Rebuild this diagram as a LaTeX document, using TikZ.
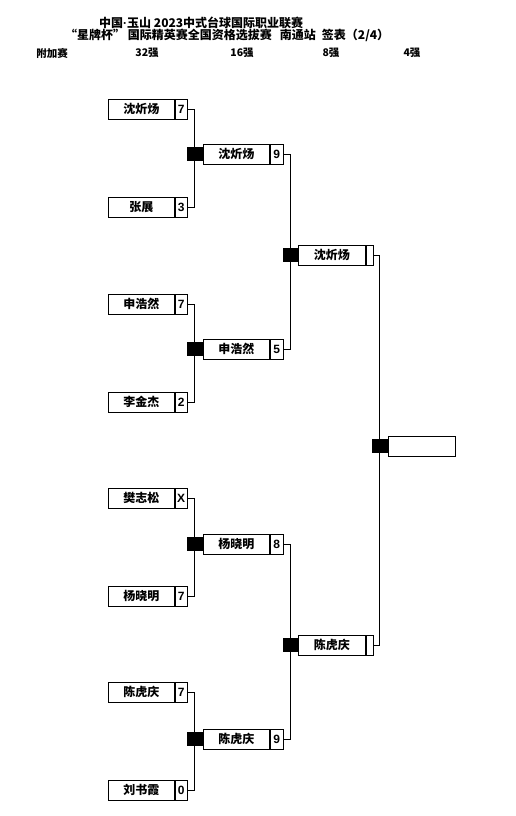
\documentclass[tikz,border=0pt]{standalone}
\usepackage{fontspec}
\setmainfont{Noto Sans CJK SC}
\newfontfamily\numfont{Liberation Sans}
\usetikzlibrary{backgrounds}
\begin{document}
\begin{tikzpicture}[x=1pt,y=-1pt,
  namebox/.style={draw, line width=0.8pt, fill=white, minimum height=20pt, inner sep=0pt, anchor=west,
    font=\bfseries\fontsize{12}{12}\selectfont},
  scorebox/.style={draw, line width=0.8pt, fill=white, minimum height=20pt, minimum width=12pt, inner sep=0pt, anchor=west,
    font=\numfont\bfseries\fontsize{12}{12}\selectfont},
  joint/.style={fill=black, minimum width=16pt, minimum height=14pt, inner sep=0pt, anchor=east},
  link/.style={line width=0.8pt},
  titletext/.style={font=\bfseries\fontsize{12}{12}\selectfont, inner sep=0pt, anchor=west},
  colhead/.style={font=\bfseries\fontsize{10.5}{10.5}\selectfont, inner sep=0pt}]

\useasboundingbox (0,0) rectangle (516,816);

% titles
\node[titletext] (t1) at (99,23) {中国{\numfont\bfseries ·}玉山 2023中式台球国际职业联赛};
\node[titletext] (t2) at (65,35) {“星牌杯” 国际精英赛全国资格选拔赛\hspace{8pt}南通站\hspace{6pt}签表（2/4）};
\node[colhead] (h0) at (52,53) {附加赛};
\node[colhead] (h1) at (147,53) {32强};
\node[colhead] (h2) at (242,53) {16强};
\node[colhead] (h3) at (331,53) {8强};
\node[colhead] (h4) at (412,53) {4强};

% round 1 (32)
\node[namebox, minimum width=66pt] (a1) at (108,109) {沈炘炀};
\node[scorebox] (sa1) at (a1.east) {7};
\node[namebox, minimum width=66pt] (a2) at (108,207) {张展};
\node[scorebox] (sa2) at (a2.east) {3};
\node[namebox, minimum width=66pt] (a3) at (108,304) {申浩然};
\node[scorebox] (sa3) at (a3.east) {7};
\node[namebox, minimum width=66pt] (a4) at (108,402) {李金杰};
\node[scorebox] (sa4) at (a4.east) {2};
\node[namebox, minimum width=66pt] (a5) at (108,498) {樊志松};
\node[scorebox] (sa5) at (a5.east) {X};
\node[namebox, minimum width=66pt] (a6) at (108,596) {杨晓明};
\node[scorebox] (sa6) at (a6.east) {7};
\node[namebox, minimum width=66pt] (a7) at (108,692) {陈虎庆};
\node[scorebox] (sa7) at (a7.east) {7};
\node[namebox, minimum width=66pt] (a8) at (108,790) {刘书霞};
\node[scorebox] (sa8) at (a8.east) {0};

% round 2 (16)
\node[namebox, minimum width=66pt] (b1) at (203,154) {沈炘炀};
\node[scorebox, minimum width=13pt] (sb1) at (b1.east) {9};
\node[joint] (jb1) at (b1.west) {};
\node[namebox, minimum width=66pt] (b2) at (203,349) {申浩然};
\node[scorebox, minimum width=13pt] (sb2) at (b2.east) {5};
\node[joint] (jb2) at (b2.west) {};
\node[namebox, minimum width=66pt] (b3) at (203,544) {杨晓明};
\node[scorebox, minimum width=13pt] (sb3) at (b3.east) {8};
\node[joint] (jb3) at (b3.west) {};
\node[namebox, minimum width=66pt] (b4) at (203,739) {陈虎庆};
\node[scorebox, minimum width=13pt] (sb4) at (b4.east) {9};
\node[joint] (jb4) at (b4.west) {};

% round 3 (8)
\node[namebox, minimum width=67pt] (c1) at (298,255) {沈炘炀};
\node[scorebox, minimum width=7pt] (sc1) at (c1.east) {};
\node[joint, minimum width=15pt] (jc1) at (c1.west) {};
\node[namebox, minimum width=67pt] (c2) at (298,645) {陈虎庆};
\node[scorebox, minimum width=7pt] (sc2) at (c2.east) {};
\node[joint, minimum width=15pt] (jc2) at (c2.west) {};

% round 4 (4)
\node[namebox, minimum width=67pt] (d1) at (388,446) {};
\node[joint] (jd1) at (d1.west) {};

% connectors
\begin{scope}[on background layer]
\draw[link] (sa1.east) -| (jb1.center);
\draw[link] (sa2.east) -| (jb1.center);
\draw[link] (sa3.east) -| (jb2.center);
\draw[link] (sa4.east) -| (jb2.center);
\draw[link] (sa5.east) -| (jb3.center);
\draw[link] (sa6.east) -| (jb3.center);
\draw[link] (sa7.east) -| (jb4.center);
\draw[link] (sa8.east) -| (jb4.center);
\draw[link] (sb1.east) -| (jc1.center);
\draw[link] (sb2.east) -| (jc1.center);
\draw[link] (sb3.east) -| (jc2.center);
\draw[link] (sb4.east) -| (jc2.center);
\draw[link] (sc1.east) -| (jd1.center);
\draw[link] (sc2.east) -| (jd1.center);
\end{scope}
\end{tikzpicture}
\end{document}
